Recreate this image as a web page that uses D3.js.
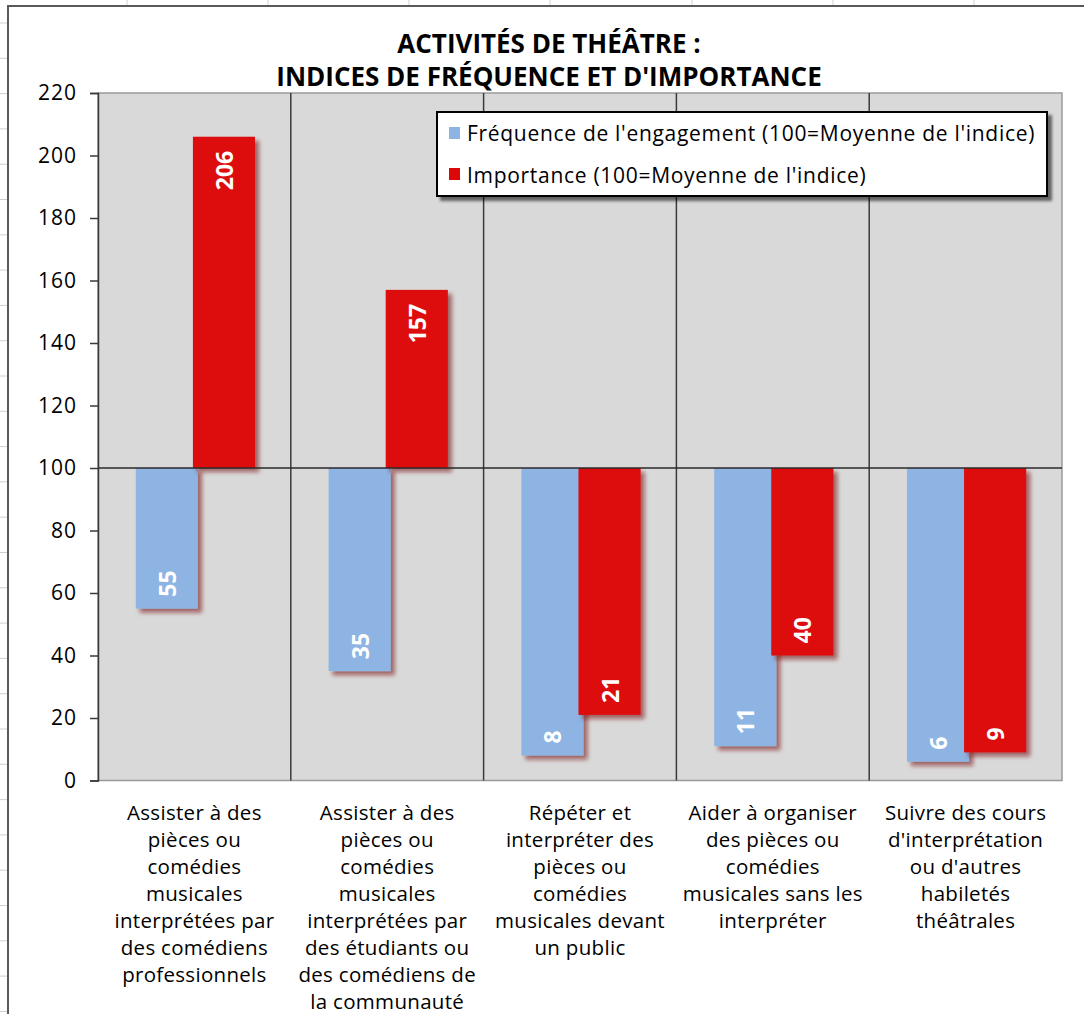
<!DOCTYPE html>
<html>
<head>
<meta charset="utf-8">
<script src="https://cdn.jsdelivr.net/npm/d3@7"></script>
<style>
  html, body { margin: 0; padding: 0; background: #fff; }
  svg { display: block; font-family: "Open Sans", sans-serif; }
</style>
</head>
<body>
<div id="chart"></div>
<script>
// Activités de théâtre - indices (base 100)
const categories = [
    "Assister à des\npièces ou\ncomédies\nmusicales\ninterprétées par\ndes comédiens\nprofessionnels",
    "Assister à des\npièces ou\ncomédies\nmusicales\ninterprétées par\ndes étudiants ou\ndes comédiens de\nla communauté",
    "Répéter et\ninterpréter des\npièces ou\ncomédies\nmusicales devant\nun public",
    "Aider à organiser\ndes pièces ou\ncomédies\nmusicales sans les\ninterpréter",
    "Suivre des cours\nd'interprétation\nou d'autres\nhabiletés\nthéâtrales"
];
const frequence = [55, 35, 8, 11, 6];
const importance = [206, 157, 21, 40, 9];
const seriesNames = [
    "Fréquence de l'engagement (100=Moyenne de l'indice)",
    "Importance (100=Moyenne de l'indice)"
];
const seriesColors = ["#8eb4e3", "#de0707"];
const yTicks = [0, 20, 40, 60, 80, 100, 120, 140, 160, 180, 200, 220];
const baseValue = 100;
const titleLines = ["ACTIVITÉS DE THÉÂTRE :", "INDICES DE FRÉQUENCE ET D'IMPORTANCE"];

const W = 1084, H = 1014;
const plot = { left: 98, right: 1062, top: 93, bottom: 780.5 };

const svg = d3.select("#chart").append("svg")
    .attr("width", W).attr("height", H);

const defs = svg.append("defs");
defs.append("filter").attr("id", "barShadow")
    .attr("x", "-20%").attr("y", "-20%").attr("width", "150%").attr("height", "150%")
    .append("feDropShadow")
    .attr("dx", 4).attr("dy", 4).attr("stdDeviation", 2.2)
    .attr("flood-color", "#7a1515").attr("flood-opacity", 0.6);
defs.append("filter").attr("id", "boxShadow")
    .attr("x", "-5%").attr("y", "-20%").attr("width", "115%").attr("height", "150%")
    .append("feDropShadow")
    .attr("dx", 4).attr("dy", 4).attr("stdDeviation", 1.5)
    .attr("flood-color", "#000").attr("flood-opacity", 0.55);

// spreadsheet grid peeking out around the chart frame
const sheetCols = [127, 268, 409, 550, 692, 833, 974];
const sheetRows = d3.range(23, H, 35.3);
svg.append("g").selectAll("line").data(sheetCols).join("line")
    .attr("x1", d => d).attr("x2", d => d).attr("y1", 0).attr("y2", 6)
    .attr("stroke", "#d0d0d0");
svg.append("g").selectAll("line").data(sheetRows).join("line")
    .attr("x1", 0).attr("x2", 8).attr("y1", d => d).attr("y2", d => d)
    .attr("stroke", "#d0d0d0");

// chart frame
svg.append("rect")
    .attr("x", 8).attr("y", 6).attr("width", W + 20).attr("height", H + 20)
    .attr("fill", "#fff").attr("stroke", "#595959").attr("stroke-width", 2);

// scales
const x = d3.scaleBand()
    .domain(d3.range(categories.length))
    .range([plot.left, plot.right]);
const y = d3.scaleLinear()
    .domain([yTicks[0], yTicks[yTicks.length - 1]])
    .range([plot.bottom, plot.top]);

// plot area
svg.append("rect")
    .attr("x", plot.left).attr("y", plot.top)
    .attr("width", plot.right - plot.left).attr("height", plot.bottom - plot.top)
    .attr("fill", "#d9d9d9").attr("stroke", "#9a9a9a").attr("stroke-width", 1.5);

// category separators
svg.append("g").selectAll("line")
    .data(d3.range(1, categories.length))
    .join("line")
    .attr("x1", i => x(i)).attr("x2", i => x(i))
    .attr("y1", plot.top).attr("y2", plot.bottom)
    .attr("stroke", "#3a3a3a").attr("stroke-width", 1.5);

// bars
const bw = x.bandwidth() * 0.322;
const ov = bw * 0.08;
const barX = [
    i => x(i) + x.bandwidth() / 2 + 1 - bw + ov / 2,
    i => x(i) + x.bandwidth() / 2 + 1 - ov / 2
];
const series = [frequence, importance];

series.forEach((vals, s) => {
    const g = svg.append("g");
    g.selectAll("rect")
        .data(vals)
        .join("rect")
        .attr("x", (d, i) => barX[s](i))
        .attr("y", d => y(Math.max(d, baseValue)))
        .attr("width", bw)
        .attr("height", d => Math.abs(y(d) - y(baseValue)))
        .attr("fill", seriesColors[s])
        .attr("filter", "url(#barShadow)");
});

// value labels, rotated, inside the far end of each bar
series.forEach((vals, s) => {
    svg.append("g").selectAll("text")
        .data(vals)
        .join("text")
        .attr("transform", (d, i) => {
            const cx = barX[s](i) + bw / 2;
            const cy = d < baseValue ? y(d) - 12 : y(d) + 14;
            return `translate(${cx},${cy}) rotate(-90)`;
        })
        .attr("text-anchor", d => d < baseValue ? "start" : "end")
        .attr("dominant-baseline", "central")
        .attr("fill", "#fff")
        .attr("font-weight", "bold")
        .attr("font-size", 23)
        .text(d => d);
});

// line at the base value (category axis crossing)
svg.append("line")
    .attr("x1", plot.left).attr("x2", plot.right)
    .attr("y1", y(baseValue)).attr("y2", y(baseValue))
    .attr("stroke", "#2a2a2a").attr("stroke-width", 1.5);

// y axis
const yAxis = svg.append("g")
    .attr("transform", `translate(${plot.left},0)`)
    .call(d3.axisLeft(y).tickValues(yTicks).tickSize(8).tickPadding(13));
yAxis.select(".domain").attr("stroke", "#3a3a3a").attr("stroke-width", 1.5);
yAxis.selectAll(".tick line").attr("stroke", "#3a3a3a").attr("stroke-width", 1.5);
yAxis.selectAll(".tick text")
    .attr("font-family", "Open Sans, sans-serif")
    .attr("font-size", 21).attr("letter-spacing", 1).attr("fill", "#000");

// category labels
svg.append("g").selectAll("text")
    .data(categories)
    .join("text")
    .attr("x", (d, i) => x(i) + x.bandwidth() / 2)
    .attr("y", 820)
    .attr("text-anchor", "middle")
    .attr("font-size", 20.5)
    .attr("letter-spacing", 0.3)
    .attr("fill", "#000")
    .each(function(d) {
        const t = d3.select(this);
        d.split("\n").forEach((line, k) => {
            t.append("tspan")
                .attr("x", t.attr("x"))
                .attr("dy", k === 0 ? 0 : 27)
                .text(line);
        });
    });

// title
svg.append("g").selectAll("text")
    .data(titleLines)
    .join("text")
    .attr("x", 549)
    .attr("y", (d, i) => 53 + i * 33)
    .attr("text-anchor", "middle")
    .attr("font-weight", "bold")
    .attr("font-size", 26)
    .attr("fill", "#000")
    .text(d => d);

// legend
const legend = svg.append("g");
legend.append("rect")
    .attr("x", 437).attr("y", 112).attr("width", 610).attr("height", 84)
    .attr("fill", "#fff").attr("stroke", "#000").attr("stroke-width", 2)
    .attr("filter", "url(#boxShadow)");
seriesNames.forEach((name, s) => {
    legend.append("rect")
        .attr("x", 449).attr("y", 127 + s * 41)
        .attr("width", 11).attr("height", 12)
        .attr("fill", seriesColors[s]);
    legend.append("text")
        .attr("x", 467).attr("y", 141 + s * 42)
        .attr("font-size", 21)
        .attr("letter-spacing", 0.7)
        .attr("fill", "#000")
        .text(name);
});
</script>
</body>
</html>
